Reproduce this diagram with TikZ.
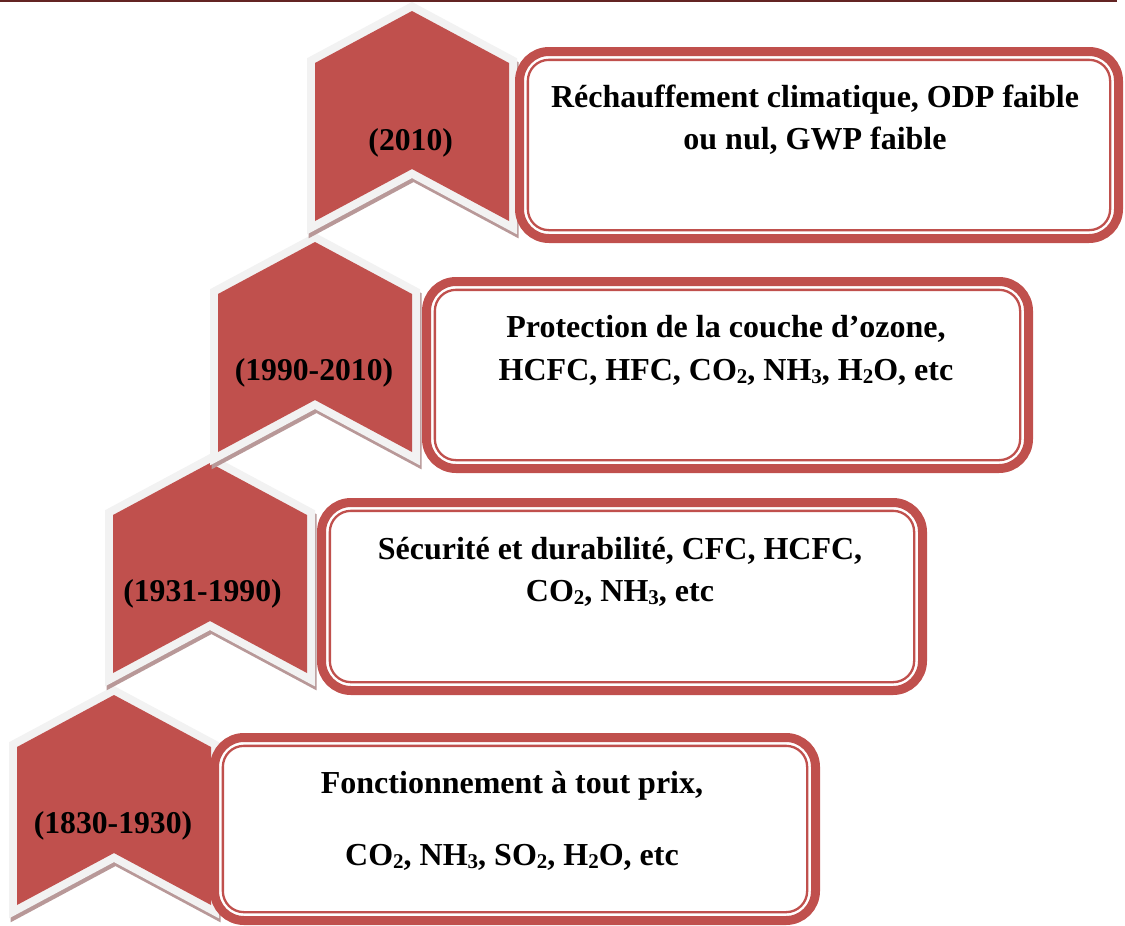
\documentclass[tikz,border=0pt]{standalone}
\usepackage{fontspec}
\setmainfont{Liberation Serif}
\definecolor{accred}{HTML}{C0504D}
\definecolor{chevgray}{HTML}{F2F2F2}
\definecolor{chevshade}{HTML}{B89898}
\definecolor{toplinecol}{HTML}{632423}
\newcommand{\chevpath}[2]{(#1,#2+52) -- (#1+97,#2) -- (#1+194,#2+52) -- (#1+194,#2+210) -- (#1+97,#2+158) -- (#1,#2+210) -- cycle}
\newcommand{\sbs}[1]{\raisebox{-0.1em}{\fontsize{21}{21}\selectfont #1}}
\tikzset{
 chevshadow/.style={fill=chevshade, draw=chevshade, line width=16pt, line join=miter},
 chevborder/.style={fill=chevgray, draw=chevgray, line width=16pt, line join=miter},
 chevfill/.style={fill=accred},
 yearlabel/.style={font=\bfseries\fontsize{31.7}{42.5}\selectfont, anchor=base, inner sep=0pt},
 boxframe/.style={draw=accred, fill=white, line width=9pt, rounded corners=29.5pt, inner sep=0pt, rectangle},
 boxinner/.style={draw=accred, line width=2.3pt, rounded corners=21pt},
 boxtext/.style={font=\bfseries\fontsize{32}{42.5}\selectfont, align=center, anchor=base, inner sep=0pt},
 headline/.style={draw=toplinecol, line width=2.5pt},
}
\begin{document}
\begin{tikzpicture}[x=1pt,y=-1pt]
\useasboundingbox (0,0) rectangle (1125,926);
\draw[headline] (0,1.2) -- (1117,1.2);

% chevron 4
\filldraw[chevshadow, shift={(1.5,4)}] \chevpath{17}{695};
\filldraw[chevborder] \chevpath{17}{695};
\fill[chevfill] \chevpath{17}{695};
\node[yearlabel] (y4) at (113,833.3) {(1830-1930)};
% chevron 3
\filldraw[chevshadow, shift={(1.5,4)}] \chevpath{113}{463};
\filldraw[chevborder] \chevpath{113}{463};
\fill[chevfill] \chevpath{113}{463};
\node[yearlabel] (y3) at (202.5,601.7) {(1931-1990)};
% chevron 2
\filldraw[chevshadow, shift={(1.5,4)}] \chevpath{218}{242};
\filldraw[chevborder] \chevpath{218}{242};
\fill[chevfill] \chevpath{218}{242};
\node[yearlabel] (y2) at (314,380) {(1990-2010)};
% chevron 1
\filldraw[chevshadow, shift={(1.5,4)}] \chevpath{315}{11};
\filldraw[chevborder] \chevpath{315}{11};
\fill[chevfill] \chevpath{315}{11};
\node[yearlabel] (y1) at (410.7,150) {(2010)};

% boxes
\node[boxframe, minimum width=599pt, minimum height=187pt] (b1) at (819,145) {};
\draw[boxinner] ([xshift=12.85pt,yshift=-12.85pt]b1.north west) rectangle ([xshift=-12.85pt,yshift=12.85pt]b1.south east);
\node[boxtext] (t1) at (815,149.5) {Réchauffement climatique, ODP faible\\ou nul, GWP faible};

\node[boxframe, minimum width=602pt, minimum height=187pt] (b2) at (727.5,375) {};
\draw[boxinner] ([xshift=12.85pt,yshift=-12.85pt]b2.north west) rectangle ([xshift=-12.85pt,yshift=12.85pt]b2.south east);
\node[boxtext] (t2) at (726,380) {Protection de la couche d’ozone,\\HCFC, HFC, CO\sbs{2}, NH\sbs{3}, H\sbs{2}O, etc};

\node[boxframe, minimum width=601pt, minimum height=188pt] (b3) at (622,596.5) {};
\draw[boxinner] ([xshift=12.85pt,yshift=-12.85pt]b3.north west) rectangle ([xshift=-12.85pt,yshift=12.85pt]b3.south east);
\node[boxtext] (t3) at (620,601.5) {Sécurité et durabilité, CFC, HCFC,\\CO\sbs{2}, NH\sbs{3}, etc};

\node[boxframe, minimum width=601pt, minimum height=183pt] (b4) at (515,829) {};
\draw[boxinner] ([xshift=12.85pt,yshift=-12.85pt]b4.north west) rectangle ([xshift=-12.85pt,yshift=12.85pt]b4.south east);
\node[boxtext] (t4) at (512,865) {Fonctionnement à tout prix,\\[29.5pt]CO\sbs{2}, NH\sbs{3}, SO\sbs{2}, H\sbs{2}O, etc};
\end{tikzpicture}
\end{document}
